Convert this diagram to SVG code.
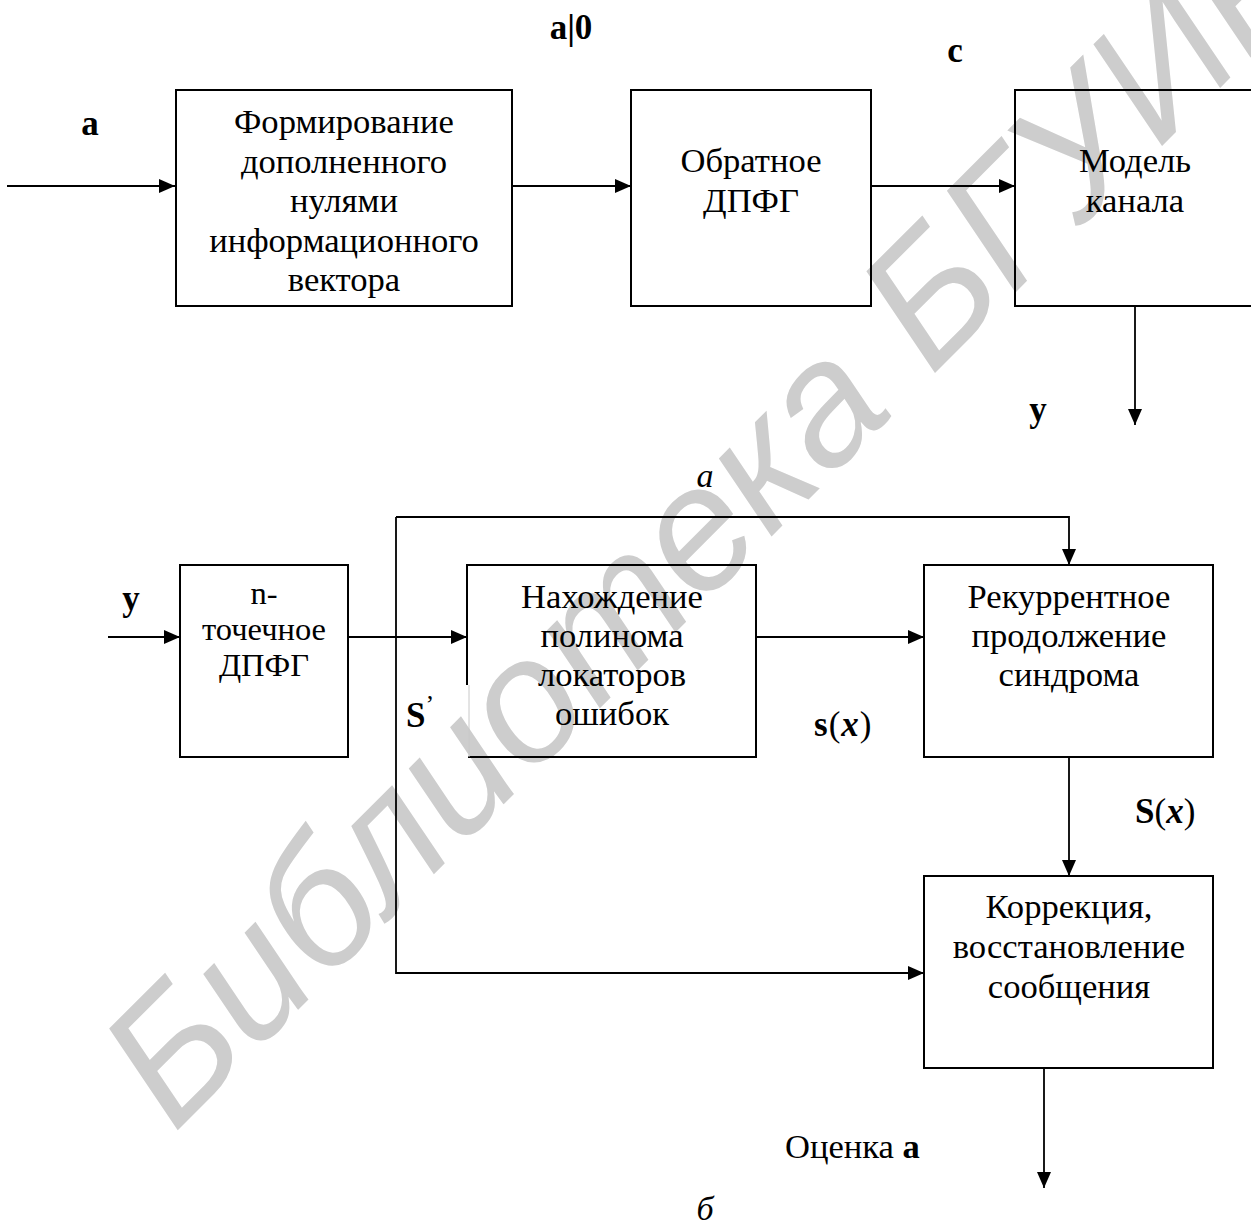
<svg xmlns="http://www.w3.org/2000/svg" width="1251" height="1225" viewBox="0 0 1251 1225">
<style>
.box{fill:none;stroke:#000;stroke-width:2}
.ln{fill:none;stroke:#000;stroke-width:1.8}
.t{font-family:"Liberation Serif","Times New Roman",serif;font-size:34.6px;fill:#000;text-anchor:middle}
.ts{font-family:"Liberation Serif","Times New Roman",serif;font-size:32.5px;fill:#000;text-anchor:middle}
.tl{font-family:"Liberation Serif","Times New Roman",serif;font-size:34.6px;fill:#000;text-anchor:start}
.b{font-family:"Liberation Serif","Times New Roman",serif;font-size:35px;font-weight:bold;fill:#000}
.i{font-family:"Liberation Serif","Times New Roman",serif;font-size:34px;font-style:italic;fill:#000}
.wm{font-family:"Liberation Sans",Arial,sans-serif;font-style:italic;font-size:175px;fill:#cdcdcd}
</style>
<defs>
<marker id="ah" markerUnits="userSpaceOnUse" markerWidth="16" markerHeight="14" refX="16" refY="7" orient="auto">
<path d="M0,0 L16,7 L0,14 z" fill="#000"/>
</marker>
</defs>
<rect width="1251" height="1225" fill="#fff"/>
<text class="wm" transform="translate(174,1134) rotate(-45)">Библиотека БГУИР</text>

<g id="connectors">
<path class="ln" d="M7,186 H175" marker-end="url(#ah)"/>
<path class="ln" d="M512,186 H631" marker-end="url(#ah)"/>
<path class="ln" d="M871,186 H1015" marker-end="url(#ah)"/>
<path class="ln" d="M1135,306 V425" marker-end="url(#ah)"/>
<path class="ln" d="M108,637 H180" marker-end="url(#ah)"/>
<path class="ln" d="M348,637 H467" marker-end="url(#ah)"/>
<path class="ln" d="M756,637 H924" marker-end="url(#ah)"/>
<path class="ln" d="M396,517 H1069 V565" marker-end="url(#ah)"/>
<path class="ln" d="M396,517 V973 H924" marker-end="url(#ah)"/>
<path class="ln" d="M1069,757 V876" marker-end="url(#ah)"/>
<path class="ln" d="M1044,1068 V1188" marker-end="url(#ah)"/>
</g>

<g id="node-form">
<rect class="box" x="176" y="90" width="336" height="216"/>
<text class="t" x="344" y="133">Формирование</text>
<text class="t" x="344" y="173">дополненного</text>
<text class="t" x="344" y="212">нулями</text>
<text class="t" x="344" y="252">информационного</text>
<text class="t" x="344" y="291">вектора</text>
</g>
<g id="node-idft">
<rect class="box" x="631" y="90" width="240" height="216"/>
<text class="t" x="751" y="172">Обратное</text>
<text class="t" x="751" y="212">ДПФГ</text>
</g>
<g id="node-channel">
<rect class="box" x="1015" y="90" width="241" height="216"/>
<text class="t" x="1135" y="172">Модель</text>
<text class="t" x="1135" y="212">канала</text>
</g>
<g id="node-dft">
<rect class="box" x="180" y="565" width="168" height="192"/>
<text class="ts" x="264" y="604">n-</text>
<text class="ts" x="264" y="640">точечное</text>
<text class="ts" x="264" y="676">ДПФГ</text>
</g>
<g id="node-locator">
<path class="box" d="M467,685 V565 H756 V757 H468"/>
<path d="M469,685 V757" stroke="#c8c8c8" stroke-width="1" fill="none"/>
<text class="t" x="612" y="608">Нахождение</text>
<text class="t" x="612" y="647">полинома</text>
<text class="t" x="612" y="686">локаторов</text>
<text class="t" x="612" y="725">ошибок</text>
</g>
<g id="node-recur">
<rect class="box" x="924" y="565" width="289" height="192"/>
<text class="t" x="1069" y="608">Рекуррентное</text>
<text class="t" x="1069" y="647">продолжение</text>
<text class="t" x="1069" y="686">синдрома</text>
</g>
<g id="node-correct">
<rect class="box" x="924" y="876" width="289" height="192"/>
<text class="t" x="1069" y="918">Коррекция,</text>
<text class="t" x="1069" y="958">восстановление</text>
<text class="t" x="1069" y="998">сообщения</text>
</g>

<g id="labels">
<text class="b" x="571" y="39" text-anchor="middle">a|0</text>
<text class="b" x="955" y="62" text-anchor="middle">c</text>
<text class="b" x="90" y="135" text-anchor="middle">a</text>
<text class="b" x="1038" y="421" text-anchor="middle">y</text>
<text class="i" x="705" y="487" text-anchor="middle">а</text>
<text class="b" x="131" y="610" text-anchor="middle">y</text>
<text class="b" x="406" y="727">S<tspan font-size="26" font-weight="normal" dy="-14">’</tspan></text>
<text class="b" x="814" y="736" font-size="40" letter-spacing="1">s<tspan font-weight="normal">(</tspan><tspan font-style="italic">x</tspan><tspan font-weight="normal">)</tspan></text>
<text class="b" x="1135" y="823" font-size="34">S<tspan font-weight="normal">(</tspan><tspan font-style="italic">x</tspan><tspan font-weight="normal">)</tspan></text>
<text class="tl" x="785" y="1158">Оценка <tspan font-weight="bold">a</tspan></text>
<text class="i" x="705" y="1220" text-anchor="middle">б</text>
</g>
</svg>
